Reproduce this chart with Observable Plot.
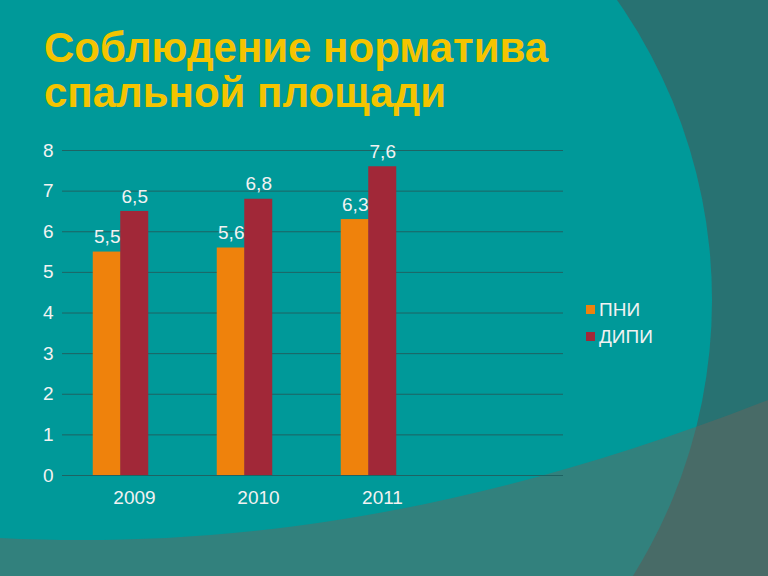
<!DOCTYPE html>
<html><head><meta charset="utf-8">
<script src="https://cdn.jsdelivr.net/npm/d3@7"></script>
<script src="https://cdn.jsdelivr.net/npm/@observablehq/plot@0.6"></script>
<style>
html,body{margin:0;padding:0;}
body{width:768px;height:576px;overflow:hidden;position:relative;background:#009999;font-family:"Liberation Sans",Arial,sans-serif;}
#bg{position:absolute;left:0;top:0;}
#title{position:absolute;left:44px;top:25px;color:#f4c400;font-weight:bold;font-size:42px;line-height:45px;margin:0;white-space:nowrap;}
#chart{position:absolute;left:0;top:130px;}
#legend{position:absolute;left:586px;top:296px;color:#f2f2f2;font-size:19px;line-height:27px;}
#legend .sw{display:inline-block;width:9px;height:9px;margin-right:4px;vertical-align:2px;}
</style></head>
<body>
<svg id="bg" width="768" height="576">
  <rect x="0" y="0" width="768" height="576" fill="#287272"/>
  <circle cx="191" cy="300" r="521" fill="#009999"/>
  <path d="M0,538 C200,548 450,525 768,400 L768,576 L0,576 Z" fill="rgb(110,100,90)" fill-opacity="0.45"/>
</svg>
<h1 id="title">Соблюдение норматива<br>спальной площади</h1>
<div id="chart"></div>
<div id="legend"></div>
<script>
const years = ["2009", "2010", "2011", " "];
const series = ["ПНИ", "ДИПИ"];
const pni = [5.5, 5.6, 6.3];
const dipi = [6.5, 6.8, 7.6];
const colors = ["#ef820c", "#a12838"];
const yTicks = [0, 1, 2, 3, 4, 5, 6, 7, 8];

const pniData = pni.map((v, i) => ({year: years[i], series: series[0], value: v}));
const dipiData = dipi.map((v, i) => ({year: years[i], series: series[1], value: v}));
const fmt = v => String(v).replace(".", ",");

const half = 13.75, shift = -8.5;
const plot = Plot.plot({
  width: 768, height: 390,
  marginTop: 20, marginBottom: 45, marginLeft: 67, marginRight: 205,
  style: {background: "transparent", color: "#f2f2f2", fontFamily: "Liberation Sans, Arial, sans-serif", fontSize: "19px"},
  x: {domain: years, paddingInner: 0.778, paddingOuter: 0.389, label: null, axis: null},
  y: {domain: [0, 8], label: null, axis: null},
  color: {domain: series, range: colors},
  marks: [
    Plot.gridY(yTicks, {stroke: "#1e6363", strokeOpacity: 1}),
    Plot.axisY(yTicks, {tickSize: 5, tickPadding: 9, stroke: "#1e6363", fill: "#f2f2f2", fontSize: 19, tickFormat: d => d, label: null}),
    Plot.axisX({anchor: "bottom", tickSize: 0, tickPadding: 15, dx: 5, fontSize: 19, fill: "#f2f2f2", label: null}),
    Plot.barY(pniData, {x: "year", y: "value", fill: "series", dx: shift - half}),
    Plot.barY(dipiData, {x: "year", y: "value", fill: "series", dx: shift + half}),
    Plot.text(pniData, {x: "year", y: "value", text: d => fmt(d.value), dy: -15, dx: shift - half, fontSize: 19, fill: "#f2f2f2"}),
    Plot.text(dipiData, {x: "year", y: "value", text: d => fmt(d.value), dy: -15, dx: shift + half, fontSize: 19, fill: "#f2f2f2"})
  ]
});
document.getElementById("chart").appendChild(plot);

const legend = document.getElementById("legend");
series.forEach((s, i) => {
  const row = document.createElement("div");
  row.innerHTML = `<span class="sw" style="background:${colors[i]}"></span>${s}`;
  legend.appendChild(row);
});
</script>
</body></html>
